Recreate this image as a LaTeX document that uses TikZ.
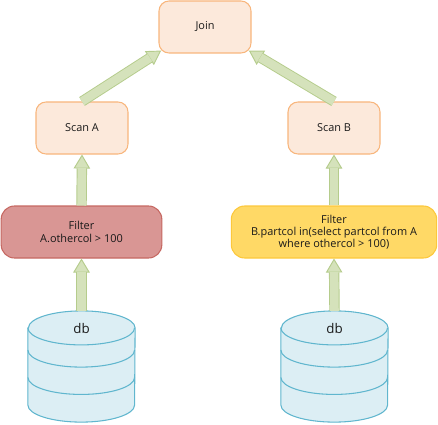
\documentclass[tikz,border=0pt]{standalone}
\usepackage{fontspec}
\setmainfont{Open Sans}
\usetikzlibrary{positioning,arrows.meta,calc}
\definecolor{opfill}{RGB}{252,233,219}
\definecolor{opline}{RGB}{248,182,125}
\definecolor{redfill}{RGB}{217,150,148}
\definecolor{redline}{RGB}{198,104,98}
\definecolor{yelfill}{RGB}{255,217,102}
\definecolor{yelline}{RGB}{252,200,60}
\definecolor{dbfill}{RGB}{220,238,244}
\definecolor{dbline}{RGB}{96,182,206}
\definecolor{arrfill}{RGB}{213,226,187}
\definecolor{arrline}{RGB}{181,204,140}
\definecolor{inktext}{RGB}{25,25,25}
\tikzset{
  opbox/.style={rectangle,rounded corners=7.5pt,draw=opline,fill=opfill,text=inktext,
    line width=0.8pt,font=\fontsize{8.2}{10}\selectfont,align=center,
    minimum width=69pt,minimum height=39pt,inner sep=0pt},
  filterbox/.style={opbox,rounded corners=10pt,minimum height=39pt},
  dbhead/.style={rectangle,minimum width=80pt,minimum height=83pt,inner sep=0pt},
  drum/.style={draw=dbline,fill=dbfill,line width=0.8pt},
  fatarrow/.style={draw=arrline,line width=7.8pt,
    -{Triangle[length=10.5pt,width=12.4pt,fill=arrfill,color=arrline,line width=0.7pt]},
    postaction={draw=arrfill,line width=6.4pt,arrows=-,shorten >=10pt}},
}
\newcommand{\dbdrum}[1]{
  \path[drum] (#1.north west) ++(0,-12.75pt) -- ($(#1.south west)+(0,12.75pt)$)
    arc[start angle=180,end angle=360,x radius=40pt,y radius=12.75pt]
    -- ($(#1.north east)+(0,-12.75pt)$)
    arc[start angle=0,end angle=180,x radius=40pt,y radius=12.75pt] -- cycle;
  \draw[drum,fill=none] ($(#1.south west)+(0,33.5pt)$)
    arc[start angle=180,end angle=360,x radius=40pt,y radius=12.75pt];
  \draw[drum,fill=none] ($(#1.south west)+(0,54pt)$)
    arc[start angle=180,end angle=360,x radius=40pt,y radius=12.75pt];
  \draw[drum,fill=none] ($(#1.north west)+(0,-12.75pt)$)
    arc[start angle=180,end angle=360,x radius=40pt,y radius=12.75pt];
  \node[text=inktext,font=\fontsize{10}{12}\selectfont] (#1label) at ($(#1.north)+(0,-13.5pt)$) {db};
}

\begin{document}
\begin{tikzpicture}[x=0.75pt,y=-0.75pt]
\useasboundingbox (0,0) rectangle (438,424);
% operators
\node[opbox] (join) at (205,27) {Join};
\node[opbox] (scana) at (82,128) {Scan A};
\node[opbox] (scanb) at (334,128) {Scan B};
\node[filterbox,fill=redfill,draw=redline,minimum width=120.5pt] (filtera) at (81.5,232) {Filter\\A.othercol > 100};
\node[filterbox,fill=yelfill,draw=yelline,minimum width=154pt,font=\fontsize{8.2}{9.2}\selectfont] (filterb) at (334,232)
  {Filter\\B.partcol in(select partcol from A\\where othercol > 100)};
% tables
\node[dbhead] (dba) at (81.5,366.5) {};
\node[dbhead] (dbb) at (334.5,366.5) {};
\dbdrum{dba}
\dbdrum{dbb}
% flow
\draw[fatarrow] (dba.north) -- (filtera.south);
\draw[fatarrow] (dbb.north) -- (filterb.south);
\draw[fatarrow] (filtera.north) -- (scana.south);
\draw[fatarrow] (filterb.north) -- (scanb.south);
\draw[fatarrow] (scana.north) -- ($(join.south west)+(2pt,2.2pt)$);
\draw[fatarrow] (scanb.north) -- ($(join.south east)+(-2pt,2.2pt)$);
\end{tikzpicture}
\end{document}
